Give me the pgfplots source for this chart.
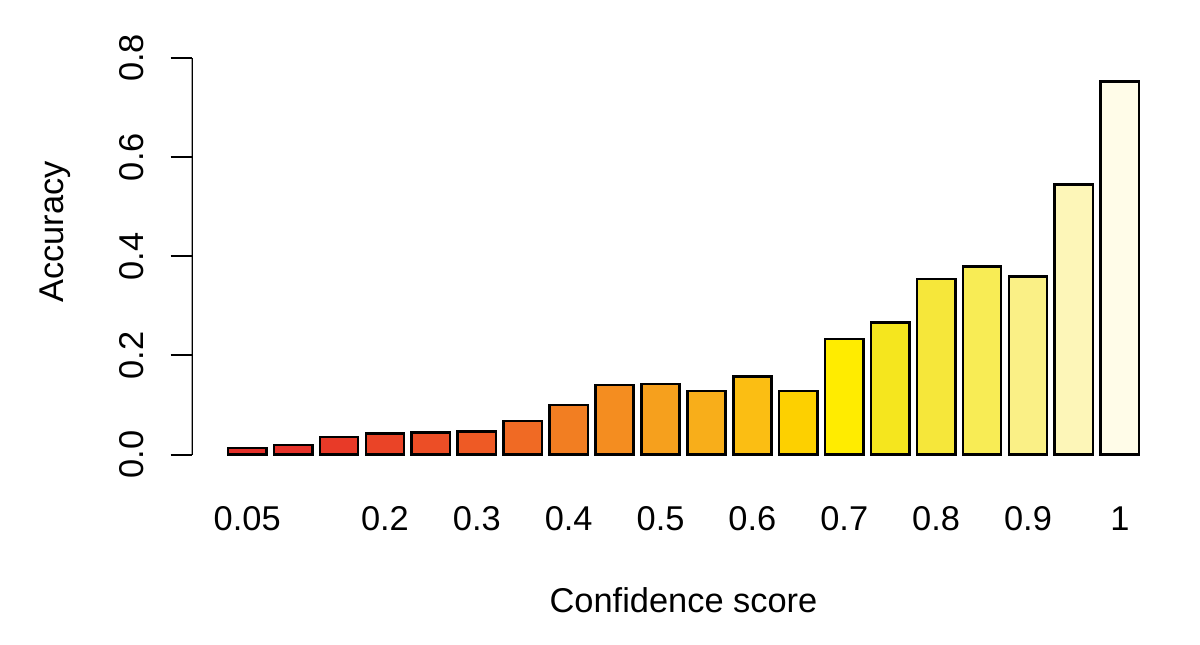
\documentclass[border=0pt]{standalone}
\usepackage{pgfplots}
\pgfplotsset{compat=1.18}
\usepackage{fontspec}
\setmainfont{Liberation Sans}

% reversed heat colours, as printed
\definecolor{c1}{HTML}{E4302A}
\definecolor{c2}{HTML}{E6332A}
\definecolor{c3}{HTML}{E83A28}
\definecolor{c4}{HTML}{EA4427}
\definecolor{c5}{HTML}{EC4E26}
\definecolor{c6}{HTML}{EE5A25}
\definecolor{c7}{HTML}{F06A24}
\definecolor{c8}{HTML}{F27E22}
\definecolor{c9}{HTML}{F48D20}
\definecolor{c10}{HTML}{F6A01D}
\definecolor{c11}{HTML}{F8AE1A}
\definecolor{c12}{HTML}{FBBE13}
\definecolor{c13}{HTML}{FDD000}
\definecolor{c14}{HTML}{FFEC00}
\definecolor{c15}{HTML}{F5E61E}
\definecolor{c16}{HTML}{F6E73A}
\definecolor{c17}{HTML}{F8EC55}
\definecolor{c18}{HTML}{FAF086}
\definecolor{c19}{HTML}{FDF6B8}
\definecolor{c20}{HTML}{FFFCE8}

\begin{document}
\begin{tikzpicture}
\useasboundingbox (0,0) rectangle (600pt,322pt);
\begin{axis}[
    at={(95.8pt,86.8pt)}, anchor=south west,
    scale only axis,
    width=491.9pt, height=214.1pt,
    xmin=-0.752, xmax=24.952,
    ymin=-0.032, ymax=0.832,
    axis line style={draw=none},
    font=\fontsize{17.2}{20}\selectfont,
    ybar, bar width=1, bar shift=0pt,
    every axis plot/.append style={draw=black, line width=1.3pt},
    xtick={0.7,4.3,6.7,9.1,11.5,13.9,16.3,18.7,21.1,23.5},
    xticklabels={0.05,0.2,0.3,0.4,0.5,0.6,0.7,0.8,0.9,1},
    xtick style={draw=none},
    xticklabel style={anchor=base, yshift=-19.3pt},
    ytick={0,0.2,0.4,0.6,0.8},
    yticklabels={0.0,0.2,0.4,0.6,0.8},
    ytick pos=left,
    tick align=outside,
    major tick length=10.5pt,
    ytick style={black, line width=1pt},
    yticklabel style={rotate=90, anchor=base, yshift=13.3pt},
    xlabel={Confidence score},
    ylabel={Accuracy},
    xlabel style={at={(axis description cs:0.5,0)}, anchor=base, yshift=-70.8pt},
    ylabel style={at={(axis description cs:-0.1300,0.557)}, rotate=0, anchor=base},
]
\addplot[fill=c1]  coordinates {(0.7,0.013)};
\addplot[fill=c2]  coordinates {(1.9,0.019)};
\addplot[fill=c3]  coordinates {(3.1,0.035)};
\addplot[fill=c4]  coordinates {(4.3,0.042)};
\addplot[fill=c5]  coordinates {(5.5,0.045)};
\addplot[fill=c6]  coordinates {(6.7,0.047)};
\addplot[fill=c7]  coordinates {(7.9,0.068)};
\addplot[fill=c8]  coordinates {(9.1,0.100)};
\addplot[fill=c9]  coordinates {(10.3,0.140)};
\addplot[fill=c10] coordinates {(11.5,0.142)};
\addplot[fill=c11] coordinates {(12.7,0.128)};
\addplot[fill=c12] coordinates {(13.9,0.157)};
\addplot[fill=c13] coordinates {(15.1,0.128)};
\addplot[fill=c14] coordinates {(16.3,0.233)};
\addplot[fill=c15] coordinates {(17.5,0.266)};
\addplot[fill=c16] coordinates {(18.7,0.354)};
\addplot[fill=c17] coordinates {(19.9,0.380)};
\addplot[fill=c18] coordinates {(21.1,0.359)};
\addplot[fill=c19] coordinates {(22.3,0.545)};
\addplot[fill=c20] coordinates {(23.5,0.753)};
\draw[black, line width=1pt] (axis cs:-0.752,0) -- (axis cs:-0.752,0.8);
\end{axis}
\end{tikzpicture}
\end{document}
